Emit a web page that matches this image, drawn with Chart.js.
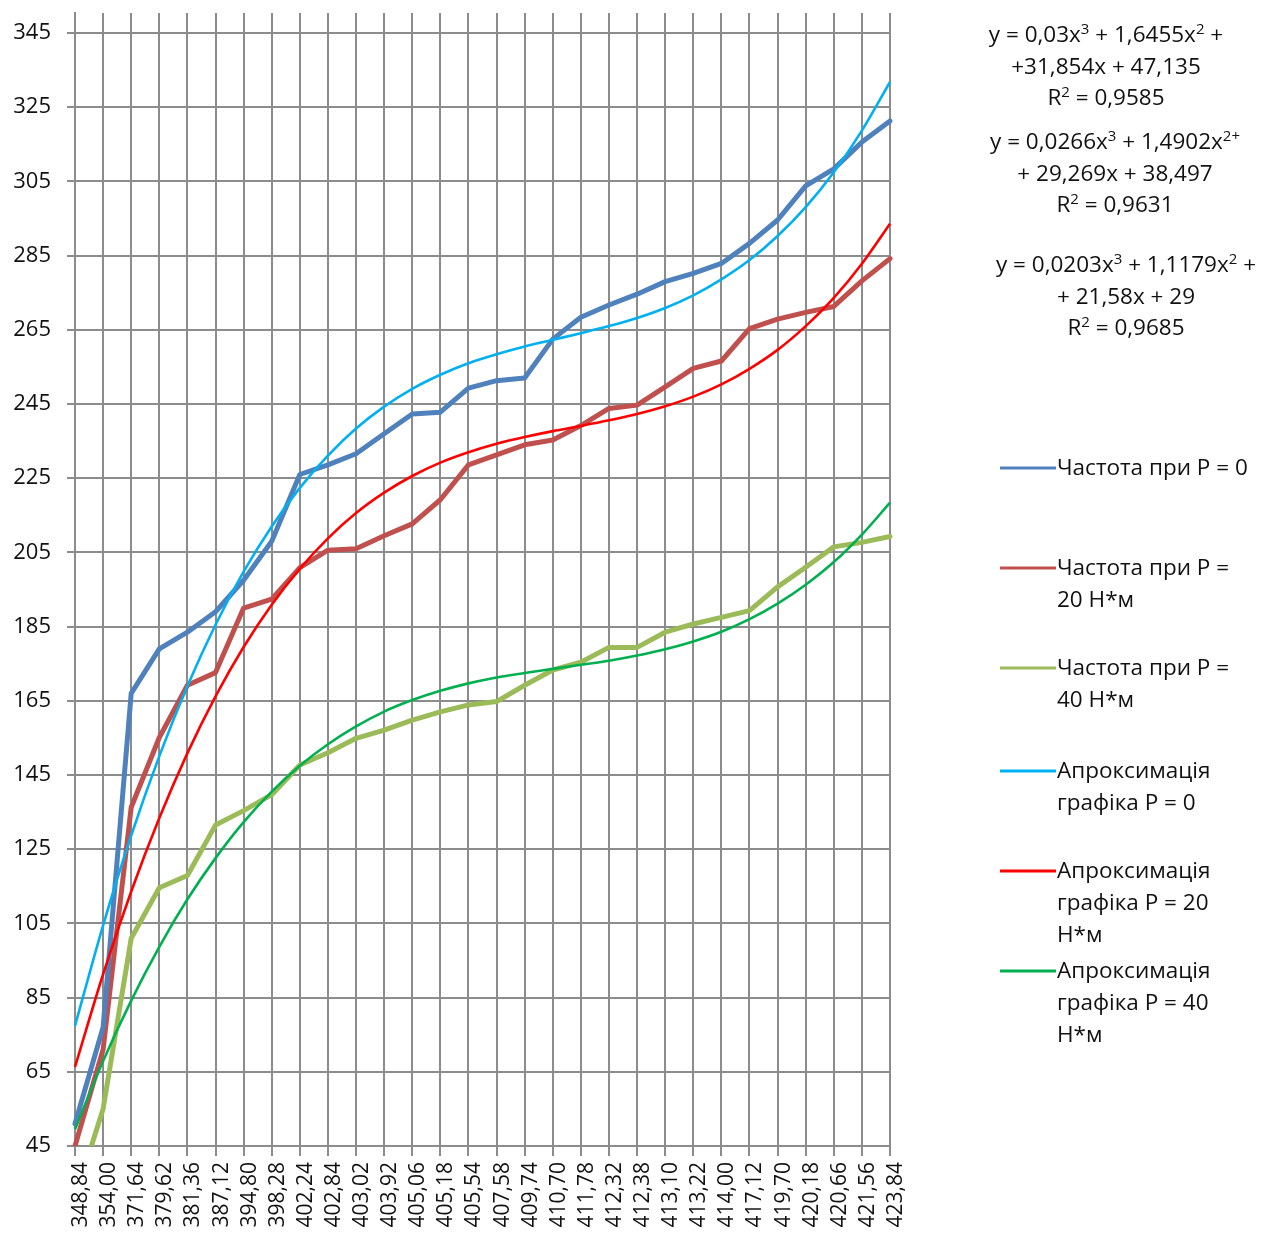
<!DOCTYPE html>
<html>
<head>
<meta charset="utf-8">
<script src="https://cdn.jsdelivr.net/npm/chart.js@4.4.1/dist/chart.umd.min.js"></script>
<style>
  html, body { margin: 0; padding: 0; background: #ffffff; }
  #wrap { width: 1266px; height: 1246px; }
</style>
</head>
<body>
<div id="wrap"><canvas id="chart" width="1266" height="1246"></canvas></div>
<script>
// Rotational speed values on the horizontal axis
const categories = [
  '348,84', '354,00', '371,64', '379,62', '381,36', '387,12', '394,80', '398,28', '402,24', '402,84',
  '403,02', '403,92', '405,06', '405,18', '405,54', '407,58', '409,74', '410,70', '411,78', '412,32',
  '412,38', '413,10', '413,22', '414,00', '417,12', '419,70', '420,18', '420,66', '421,56', '423,84'
];

// Measured frequency at each load
const freqP0 = [
  51, 77, 167, 179, 183.5, 189, 197.5, 208, 226, 228.6,
  231.6, 237, 242.3, 242.8, 249.3, 251.3, 252, 262.5, 268.4, 271.7,
  274.6, 278, 280.2, 282.9, 288.3, 294.6, 303.8, 308.4, 315.6, 321.3
];
const freqP20 = [
  45, 71, 136.3, 155.1, 169.2, 172.6, 190, 192.4, 200.9, 205.6,
  206, 209.5, 212.7, 219.2, 228.6, 231.3, 234, 235.3, 239.2, 243.8,
  244.7, 249.6, 254.6, 256.6, 265.3, 267.9, 269.7, 271.3, 278.2, 284.2
];
const freqP40 = [
  31, 55, 101, 114.6, 117.9, 131.5, 135.4, 139.7, 147.7, 151,
  154.9, 157.1, 159.8, 162, 163.9, 164.8, 169.2, 173.3, 175.4, 179.4,
  179.4, 183.5, 185.7, 187.5, 189.3, 195.7, 201, 206.5, 207.7, 209.3
];

// Cubic approximation curves
const approxP0 = [
  77.4, 104.5, 128.7, 150.1, 169.0, 185.5, 199.8, 212.0, 222.4, 231.1,
  238.4, 244.3, 249.1, 252.9, 256.0, 258.4, 260.5, 262.3, 264.1, 266.0,
  268.2, 270.9, 274.3, 278.6, 283.8, 290.3, 298.1, 307.5, 318.7, 331.8
];
const approxP20 = [
  66.3, 91.3, 113.6, 133.4, 150.9, 166.2, 179.5, 190.9, 200.6, 208.8,
  215.6, 221.1, 225.6, 229.2, 232.0, 234.3, 236.1, 237.7, 239.1, 240.6,
  242.3, 244.4, 247.0, 250.3, 254.5, 259.6, 266.0, 273.6, 282.8, 293.6
];
const approxP40 = [
  49.5, 67.9, 84.2, 98.7, 111.5, 122.6, 132.3, 140.5, 147.5, 153.3,
  158.1, 162.1, 165.2, 167.7, 169.7, 171.3, 172.5, 173.6, 174.7, 175.8,
  177.2, 178.9, 181.0, 183.6, 187.0, 191.2, 196.3, 202.4, 209.8, 218.4
];

// Vertical axis tick labels
const yTickValues = [45, 65, 85, 105, 125, 145, 165, 185, 205, 225, 245, 265, 285, 305, 325, 345];

// Legend captions (one entry per series, split into lines)
const legendLabels = [
  ['Частота при P = 0'],
  ['Частота при P =', '20 Н*м'],
  ['Частота при P =', '40 Н*м'],
  ['Апроксимація', 'графіка P = 0'],
  ['Апроксимація', 'графіка P = 20', 'Н*м'],
  ['Апроксимація', 'графіка P = 40', 'Н*м']
];

// Regression equations; ^...^ marks superscript
const equationP0 = ['y = 0,03x^3^ + 1,6455x^2^ +', '+31,854x + 47,135', 'R^2^ = 0,9585'];
const equationP20 = ['y = 0,0266x^3^ + 1,4902x^2+^', '+ 29,269x + 38,497', 'R^2^ = 0,9631'];
const equationP40 = ['y = 0,0203x^3^ + 1,1179x^2^ +', '+ 21,58x + 29', 'R^2^ = 0,9685'];

const FONT = "'Open Sans', 'DejaVu Sans', sans-serif";
const GRID = '#8c8c8c';
const TEXT = '#111111';

function drawRich(ctx, text, cx, cy, size) {
  const parts = text.split('^');
  const supSize = Math.round(size * 0.68);
  let total = 0;
  const widths = parts.map((p, i) => {
    ctx.font = (i % 2 ? supSize : size) + 'px ' + FONT;
    const w = ctx.measureText(p).width;
    total += w;
    return w;
  });
  let x = cx - total / 2;
  parts.forEach((p, i) => {
    const sup = i % 2 === 1;
    ctx.font = (sup ? supSize : size) + 'px ' + FONT;
    ctx.fillText(p, x, sup ? cy - size * 0.3 : cy);
    x += widths[i];
  });
}

const sidePanel = {
  id: 'sidePanel',
  afterDraw(chart) {
    const ctx = chart.ctx;
    ctx.save();
    ctx.fillStyle = TEXT;
    ctx.textBaseline = 'middle';
    ctx.textAlign = 'left';

    const blocks = [
      { lines: equationP0, cx: 1106, y: 36 },
      { lines: equationP20, cx: 1115, y: 143 },
      { lines: equationP40, cx: 1126, y: 266 }
    ];
    blocks.forEach(b => {
      b.lines.forEach((ln, k) => drawRich(ctx, ln, b.cx, b.y + k * 31.5, 22.5));
    });

    const itemTops = [469, 569, 669, 772, 872, 972];
    chart.data.datasets.forEach((ds, i) => {
      const y0 = itemTops[i];
      ctx.strokeStyle = ds.borderColor;
      ctx.lineWidth = 3;
      ctx.beginPath();
      ctx.moveTo(1000, y0 - 1);
      ctx.lineTo(1056, y0 - 1);
      ctx.stroke();
      ctx.font = '22.5px ' + FONT;
      legendLabels[i].forEach((t, k) => ctx.fillText(t, 1057, y0 + k * 32));
    });
    ctx.restore();
  }
};

const dataLine = (label, data, color) => ({
  label, data, borderColor: color, backgroundColor: color,
  borderWidth: 5, pointRadius: 0, tension: 0, order: 1,
  borderJoinStyle: 'round', borderCapStyle: 'round',
  clip: { left: 4, right: 4, top: 4, bottom: 0 }
});
const trendLine = (label, data, color) => ({
  label, data, borderColor: color, backgroundColor: color,
  borderWidth: 2.6, pointRadius: 0, cubicInterpolationMode: 'monotone', order: 0,
  clip: { left: 4, right: 4, top: 4, bottom: 0 }
});

// Axis boxes keep no extra edge padding so the plot spans the full frame
function noEdgePadding(scale) {
  scale.paddingTop = 0;
  scale.paddingBottom = 0;
  scale.paddingLeft = 0;
  scale.paddingRight = 0;
}

new Chart(document.getElementById('chart'), {
  type: 'line',
  data: {
    labels: categories,
    datasets: [
      dataLine('Частота при P = 0', freqP0, '#4F81BD'),
      dataLine('Частота при P = 20 Н*м', freqP20, '#C0504D'),
      dataLine('Частота при P = 40 Н*м', freqP40, '#9BBB59'),
      trendLine('Апроксимація графіка P = 0', approxP0, '#00B0F0'),
      trendLine('Апроксимація графіка P = 20 Н*м', approxP20, '#FF0000'),
      trendLine('Апроксимація графіка P = 40 Н*м', approxP40, '#00B050')
    ]
  },
  options: {
    responsive: false,
    animation: false,
    layout: { padding: { top: 13, right: 376, left: 0, bottom: 0 } },
    plugins: { legend: { display: false }, tooltip: { enabled: false } },
    scales: {
      x: {
        type: 'category',
        offset: false,
        afterFit(scale) { scale.height = 100; noEdgePadding(scale); },
        grid: { color: GRID, lineWidth: 2, tickLength: 10, offset: false },
        border: { color: GRID, width: 2 },
        ticks: {
          autoSkip: false, minRotation: 90, maxRotation: 90,
          color: TEXT, padding: 6, labelOffset: 6,
          font: { family: FONT, size: 21 }
        }
      },
      y: {
        min: 45,
        max: 350.4,
        afterFit(scale) { scale.width = 75; noEdgePadding(scale); },
        afterBuildTicks(scale) { scale.ticks = yTickValues.map(v => ({ value: v })); },
        grid: { color: GRID, lineWidth: 2, tickLength: 8 },
        border: { color: GRID, width: 2 },
        ticks: {
          color: TEXT, padding: 16,
          font: { family: FONT, size: 22 },
          callback: v => String(v)
        }
      }
    }
  },
  plugins: [sidePanel]
});
</script>
</body>
</html>
